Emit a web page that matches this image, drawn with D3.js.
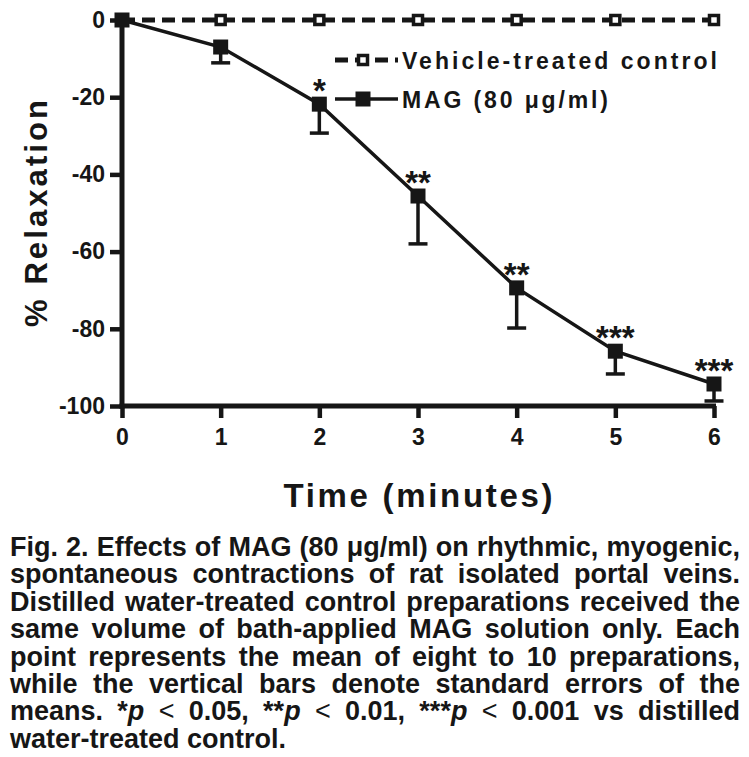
<!DOCTYPE html>
<html><head><meta charset="utf-8">
<script src="https://cdn.jsdelivr.net/npm/d3@7"></script>
<style>body{margin:0;background:#fff} svg{display:block}</style>
</head><body>
<svg id="chart" width="749" height="757"></svg>
<script>
const times = [0, 1, 2, 3, 4, 5, 6];
const controlMean = [0, 0, 0, 0, 0, 0, 0];
const magMean = [0, -7.0, -21.8, -45.6, -69.4, -85.8, -94.3];
const magSE = [0, 4.1, 7.5, 12.4, 10.4, 5.9, 4.4];
const sigStars = ["", "", "*", "**", "**", "***", "***"];
const yTicks = [0, -20, -40, -60, -80, -100];
const xTicks = [0, 1, 2, 3, 4, 5, 6];
const legendLabels = ["Vehicle-treated control", "MAG (80 \u03BCg/ml)"];
const xTitle = "Time (minutes)";
const yTitle = "% Relaxation";
const captionLines = [
  "Fig. 2. Effects of MAG (80 \u03BCg/ml) on rhythmic, myogenic,",
  "spontaneous contractions of rat isolated portal veins.",
  "Distilled water-treated control preparations received the",
  "same volume of bath-applied MAG solution only. Each",
  "point represents the mean of eight to 10 preparations,",
  "while the vertical bars denote standard errors of the",
  "means. *p < 0.05, **p < 0.01, ***p < 0.001 vs distilled",
  "water-treated control."
];

const svg = d3.select("#chart");
const FONT = "'Liberation Sans', Arial, Helvetica, sans-serif";
const INK = "#161616";

const x = d3.scaleLinear().domain([0, 6]).range([122, 714]);
const y = d3.scaleLinear().domain([-100, 0]).range([406, 20]);

// Axes
const gx = svg.append("g").attr("transform", `translate(0,${y(-100)})`)
  .call(d3.axisBottom(x).tickValues(xTicks).tickSize(12).tickSizeOuter(0).tickPadding(11).tickFormat(d3.format("d")));
const gy = svg.append("g").attr("transform", `translate(${x(0)},0)`)
  .call(d3.axisLeft(y).tickValues(yTicks).tickSize(12).tickSizeOuter(0).tickPadding(5).tickFormat(d => d3.format("d")(d).replace("\u2212", "-")));
[gx, gy].forEach(g => {
  g.select(".domain").remove();
  g.selectAll(".tick line").attr("stroke", INK).attr("stroke-width", 4.5);
  g.selectAll(".tick text").attr("fill", INK).style("font-family", FONT)
    .style("font-size", "23px").style("font-weight", "bold");
});
// axis lines
svg.append("line").attr("x1", x(0)).attr("x2", x(0)).attr("y1", y(0) - 5).attr("y2", y(-100) + 2.5)
  .attr("stroke", INK).attr("stroke-width", 5);
svg.append("line").attr("x1", x(0) - 2.5).attr("x2", x(6) + 2).attr("y1", y(-100)).attr("y2", y(-100))
  .attr("stroke", INK).attr("stroke-width", 5);

// Control series (dashed, open squares)
const line = d3.line().x((d, i) => x(times[i])).y(d => y(d));
svg.append("path").datum(controlMean).attr("d", line).attr("fill", "none")
  .attr("stroke", INK).attr("stroke-width", 5).attr("stroke-dasharray", "13,7");
svg.append("g").selectAll("rect").data(controlMean).join("rect")
  .attr("x", (d, i) => x(times[i]) - 4.5).attr("y", d => y(d) - 4.5)
  .attr("width", 9).attr("height", 9).attr("fill", "#fff").attr("stroke", INK).attr("stroke-width", 3.5);

// MAG series
svg.append("path").datum(magMean).attr("d", line).attr("fill", "none")
  .attr("stroke", INK).attr("stroke-width", 3.5);
const eb = svg.append("g").attr("stroke", INK).attr("stroke-width", 3.5);
magMean.forEach((m, i) => {
  if (!magSE[i]) return;
  eb.append("line").attr("x1", x(times[i])).attr("x2", x(times[i])).attr("y1", y(m)).attr("y2", y(m - magSE[i]));
  eb.append("line").attr("x1", x(times[i]) - 9.5).attr("x2", x(times[i]) + 9.5).attr("y1", y(m - magSE[i])).attr("y2", y(m - magSE[i]));
});
svg.append("g").selectAll("rect").data(magMean).join("rect")
  .attr("x", (d, i) => x(times[i]) - 7.5).attr("y", d => y(d) - 7.5)
  .attr("width", 15).attr("height", 15).attr("fill", INK);
svg.append("g").selectAll("text").data(sigStars).join("text")
  .attr("x", (d, i) => x(times[i])).attr("y", (d, i) => y(magMean[i]) - 2)
  .attr("text-anchor", "middle").attr("fill", INK)
  .style("font-family", FONT).style("font-size", "33px").style("font-weight", "bold").text(d => d);

// Legend
const lg = svg.append("g");
const legRows = [60, 99];
lg.append("line").attr("x1", 335).attr("x2", 398).attr("y1", legRows[0]).attr("y2", legRows[0])
  .attr("stroke", INK).attr("stroke-width", 5).attr("stroke-dasharray", "13,7");
lg.append("rect").attr("x", 363 - 4.5).attr("y", legRows[0] - 4.5).attr("width", 9).attr("height", 9)
  .attr("fill", "#fff").attr("stroke", INK).attr("stroke-width", 3.5);
lg.append("line").attr("x1", 335).attr("x2", 398).attr("y1", legRows[1]).attr("y2", legRows[1])
  .attr("stroke", INK).attr("stroke-width", 3.5);
lg.append("rect").attr("x", 363 - 7.5).attr("y", legRows[1] - 7.5).attr("width", 15).attr("height", 15).attr("fill", INK);
const legWidths = [315, 206];
legendLabels.forEach((t, i) => {
  lg.append("text").attr("x", 402).attr("y", legRows[i] + 8.5).attr("fill", INK)
    .style("font-family", FONT).style("font-size", "23px").style("font-weight", "bold")
    .attr("textLength", legWidths[i]).attr("lengthAdjust", "spacing").text(t);
});

// Axis titles
svg.append("text").attr("x", 418).attr("y", 507).attr("text-anchor", "middle").attr("fill", INK)
  .style("font-family", FONT).style("font-size", "33px").style("font-weight", "bold")
  .attr("textLength", 269).attr("lengthAdjust", "spacing").text(xTitle);
svg.append("text").attr("transform", "translate(47,213.5) rotate(-90)").attr("text-anchor", "middle").attr("fill", INK)
  .style("font-family", FONT).style("font-size", "31px").style("font-weight", "bold")
  .attr("textLength", 227).attr("lengthAdjust", "spacing").text(yTitle);

// Caption
const cap = svg.append("g").attr("fill", INK).style("font-family", FONT)
  .style("font-size", "27px").style("font-weight", "bold");
captionLines.forEach((ln, i) => {
  const t = cap.append("text").attr("x", 10).attr("y", 556 + i * 27.4);
  ln.split(/(p(?= <)|<)/).forEach(seg => {
    if (!seg) return;
    const ts = t.append("tspan").text(seg);
    if (seg === "p") ts.style("font-style", "italic");
    if (seg === "<") ts.style("font-weight", "normal");
  });
  if (i < captionLines.length - 1) {
    const w = t.node().getComputedTextLength();
    const spaces = (ln.match(/ /g) || []).length;
    const target = 730;
    if (w < target) t.style("word-spacing", ((target - w) / spaces) + "px");
    else t.attr("textLength", target).attr("lengthAdjust", "spacingAndGlyphs");
  }
});
</script>
</body></html>
